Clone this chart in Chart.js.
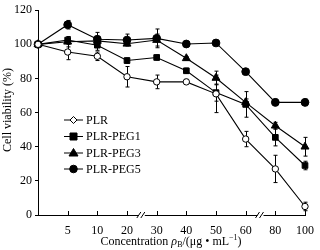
<!DOCTYPE html>
<html>
<head>
<meta charset="utf-8">
<script src="https://cdn.jsdelivr.net/npm/chart.js@4"></script>
<style>
html,body{margin:0;padding:0;background:#fff;}
#wrap{width:320px;height:250px;position:relative;}
</style>
</head>
<body>
<div id="wrap"><canvas id="c" width="320" height="250"></canvas></div>
<script>
const categories = ['0','5','10','20','30','40','50','60','80','100'];
const yTicks = [0,20,40,60,80,100,120];
const seriesNames = ['PLR','PLR-PEG1','PLR-PEG3','PLR-PEG5'];
const plr     = [100, 95.5, 93, 81, 78, 78, 71, 44.5, 27, 5];
const plrErr  = [0, 4.5, 2.5, 6, 4, 1.5, 11, 4.5, 8, 2.5];
const peg1    = [100, 102.5, 99.5, 90.5, 92.3, 84.5, 71.7, 64.8, 45.5, 29];
const peg1Err = [0, 2, 3, 1.5, 1.5, 1.5, 5, 7.5, 5, 2.5];
const peg3    = [100, 101.5, 102, 100.3, 102.5, 91.8, 80.3, 66, 52.3, 40];
const peg3Err = [0, 3, 2, 1, 3.5, 1, 4, 2, 2, 5.5];
const peg5    = [100, 111.5, 103, 102.5, 103.5, 100.2, 100.8, 84, 66, 66];
const peg5Err = [0, 2.5, 4, 3.5, 5.5, 1, 1.5, 1, 2, 2];
const breakIdx = [3.5, 7.5];

const FONT = '"Liberation Serif","Times New Roman",serif';

const errs = [plrErr, peg1Err, peg3Err, peg5Err];

const styles = [
  {pointStyle:'circle', radius:3.2, bg:'#fff'},
  {pointStyle:'rect', radius:4, bg:'#000'},
  {pointStyle:'triangle', radius:4.6, bg:'#000'},
  {pointStyle:'circle', radius:3.9, bg:'#000'}
];
const vals = [plr, peg1, peg3, peg5];

const datasets = vals.map((v,i)=>({
  label: seriesNames[i],
  data: v,
  borderColor:'#000',
  borderWidth:1.1,
  pointStyle: styles[i].pointStyle,
  pointRadius: styles[i].radius,
  pointBackgroundColor: styles[i].bg,
  pointBorderColor:'#000',
  pointBorderWidth:1,
  tension:0,
  fill:false
}));

const extras = {
  id:'extras',
  beforeDatasetsDraw(chart){
    const ctx = chart.ctx, x = chart.scales.x, y = chart.scales.y;
    ctx.save();
    ctx.strokeStyle='#000'; ctx.lineWidth=1;
    errs.forEach((e,si)=>{
      e.forEach((d,i)=>{
        if(!d) return;
        const px = Math.round(x.getPixelForValue(i))+0.5;
        const top = y.getPixelForValue(vals[si][i]+d);
        const bot = y.getPixelForValue(vals[si][i]-d);
        ctx.beginPath();
        ctx.moveTo(px,top); ctx.lineTo(px,bot);
        ctx.moveTo(px-2,top); ctx.lineTo(px+2,top);
        ctx.moveTo(px-2,bot); ctx.lineTo(px+2,bot);
        ctx.stroke();
      });
    });
    ctx.restore();
  },
  afterDraw(chart){
    const ctx = chart.ctx, x = chart.scales.x, y = chart.scales.y;
    const y0 = y.getPixelForValue(0);
    ctx.save();
    ctx.strokeStyle='#000'; ctx.lineWidth=1;
    for(let i=1;i<categories.length;i++){
      const px = Math.round(x.getPixelForValue(i))+0.5;
      ctx.beginPath(); ctx.moveTo(px,y0); ctx.lineTo(px,y0-4); ctx.stroke();
    }
    breakIdx.forEach(b=>{
      const px = x.getPixelForValue(b);
      ctx.fillStyle='#fff';
      ctx.fillRect(px-3,y0-2,6,4);
      ctx.beginPath();
      ctx.moveTo(px-5,y0+3); ctx.lineTo(px-1,y0-3);
      ctx.moveTo(px-1,y0+3); ctx.lineTo(px+3,y0-3);
      ctx.stroke();
    });
    const lx = 64, ly = [120, 136.5, 153, 169];
    ctx.font = '12px '+FONT; ctx.fillStyle='#000'; ctx.textBaseline='middle'; ctx.textAlign='left';
    seriesNames.forEach((n,i)=>{
      ctx.beginPath(); ctx.moveTo(lx,ly[i]); ctx.lineTo(lx+19,ly[i]); ctx.stroke();
      const st = styles[i];
      const cx = lx+9.5, cy = ly[i];
      ctx.fillStyle = st.bg;
      ctx.beginPath();
      if(i===0){ ctx.moveTo(cx,cy-3.5); ctx.lineTo(cx+3.5,cy); ctx.lineTo(cx,cy+3.5); ctx.lineTo(cx-3.5,cy); ctx.closePath(); }
      else if(i===1){ ctx.rect(cx-3.5,cy-3.5,7,7); }
      else if(i===2){ ctx.moveTo(cx,cy-4.5); ctx.lineTo(cx+4.5,cy+3); ctx.lineTo(cx-4.5,cy+3); ctx.closePath(); }
      else { ctx.arc(cx,cy,3.8,0,Math.PI*2); }
      ctx.fill(); ctx.stroke();
      ctx.fillStyle='#000';
      ctx.fillText(n, lx+22, ly[i]+0.5);
    });
    const parts = [
      {t:'Concentration ', f:'12px '+FONT, dy:0},
      {t:'\u03C1', f:'italic 12px '+FONT, dy:0},
      {t:'B', f:'8px '+FONT, dy:3},
      {t:'/(\u03BCg \u2022 mL', f:'12px '+FONT, dy:0},
      {t:'\u22121', f:'8px '+FONT, dy:-4},
      {t:')', f:'12px '+FONT, dy:0}
    ];
    let total = 0;
    parts.forEach(p=>{ctx.font=p.f; p.w=ctx.measureText(p.t).width; total+=p.w;});
    let cxp = 171 - total/2;
    const by = 242;
    parts.forEach(p=>{ctx.font=p.f; ctx.fillText(p.t,cxp,by+p.dy); cxp+=p.w;});
    ctx.save();
    ctx.translate(8,110); ctx.rotate(-Math.PI/2);
    ctx.font='12px '+FONT; ctx.textAlign='center';
    ctx.fillText('Cell viability (%)',0,0);
    ctx.restore();
    ctx.restore();
  }
};

new Chart(document.getElementById('c'),{
  type:'line',
  data:{labels:categories, datasets},
  options:{
    responsive:false,
    animation:false,
    layout:{padding:{top:10,right:15,left:0,bottom:0}},
    plugins:{legend:{display:false},tooltip:{enabled:false}},
    scales:{
      x:{
        type:'category', offset:false,
        grid:{display:false},
        border:{display:true,color:'#000',width:1},
        ticks:{color:'#000',font:{family:FONT,size:12},padding:1,autoSkip:false,maxRotation:0,
          callback:(v,i)=> i===0 ? '' : categories[i]},
        afterFit:(s)=>{s.height=35;}
      },
      y:{
        min:0,max:120,
        afterBuildTicks:(s)=>{s.ticks = yTicks.map(v=>({value:v}));},
        grid:{drawOnChartArea:false,drawTicks:true,tickLength:3,color:'#000'},
        border:{display:true,color:'#000',width:1},
        ticks:{color:'#000',font:{family:FONT,size:12},padding:3},
        afterFit:(s)=>{s.width=38;}
      }
    }
  },
  plugins:[extras]
});
</script>
</body>
</html>
